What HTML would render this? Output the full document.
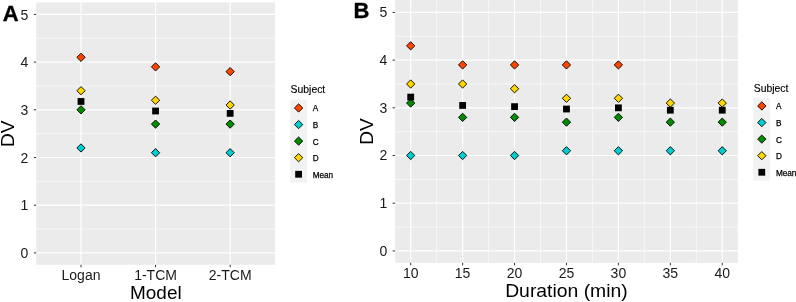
<!DOCTYPE html>
<html><head><meta charset="utf-8"><style>
html,body{margin:0;padding:0;background:#fff;}
body{width:796px;height:302px;overflow:hidden;}
svg{display:block;will-change:transform;}
text{font-family:"Liberation Sans",sans-serif;}
.tk{font-size:14px;fill:#1a1a1a;}
.ti{font-size:18.6px;fill:#000;}
.tag{font-size:22px;font-weight:bold;fill:#000;stroke:#000;stroke-width:0.35px;}
.lt{font-size:10.4px;fill:#000;stroke:#000;stroke-width:0.15px;}
.ll{font-size:8.2px;fill:#000;stroke:#000;stroke-width:0.25px;}
</style></head><body>
<svg width="796" height="302" viewBox="0 0 796 302">
<rect x="36.2" y="2.5" width="238.7" height="262.3" fill="#EBEBEB"/>
<line x1="36.2" x2="274.9" y1="229.05" y2="229.05" stroke="#fff" stroke-width="0.6"/>
<line x1="36.2" x2="274.9" y1="181.35" y2="181.35" stroke="#fff" stroke-width="0.6"/>
<line x1="36.2" x2="274.9" y1="133.65" y2="133.65" stroke="#fff" stroke-width="0.6"/>
<line x1="36.2" x2="274.9" y1="85.95" y2="85.95" stroke="#fff" stroke-width="0.6"/>
<line x1="36.2" x2="274.9" y1="38.25" y2="38.25" stroke="#fff" stroke-width="0.6"/>
<line x1="36.2" x2="274.9" y1="252.90" y2="252.90" stroke="#fff" stroke-width="1.2"/>
<line x1="36.2" x2="274.9" y1="205.20" y2="205.20" stroke="#fff" stroke-width="1.2"/>
<line x1="36.2" x2="274.9" y1="157.50" y2="157.50" stroke="#fff" stroke-width="1.2"/>
<line x1="36.2" x2="274.9" y1="109.80" y2="109.80" stroke="#fff" stroke-width="1.2"/>
<line x1="36.2" x2="274.9" y1="62.10" y2="62.10" stroke="#fff" stroke-width="1.2"/>
<line x1="36.2" x2="274.9" y1="14.40" y2="14.40" stroke="#fff" stroke-width="1.2"/>
<line x1="81.00" x2="81.00" y1="2.5" y2="264.8" stroke="#fff" stroke-width="1.2"/>
<line x1="155.56" x2="155.56" y1="2.5" y2="264.8" stroke="#fff" stroke-width="1.2"/>
<line x1="230.16" x2="230.16" y1="2.5" y2="264.8" stroke="#fff" stroke-width="1.2"/>
<path d="M81.00 53.18L85.15 57.33L81.00 61.48L76.85 57.33Z" fill="#FF4500" stroke="#000" stroke-width="0.9"/>
<path d="M81.00 143.81L85.15 147.96L81.00 152.11L76.85 147.96Z" fill="#00CED1" stroke="#000" stroke-width="0.9"/>
<path d="M81.00 105.65L85.15 109.80L81.00 113.95L76.85 109.80Z" fill="#008B00" stroke="#000" stroke-width="0.9"/>
<path d="M81.00 86.57L85.15 90.72L81.00 94.87L76.85 90.72Z" fill="#FFD700" stroke="#000" stroke-width="0.9"/>
<rect x="77.60" y="98.05" width="6.80" height="6.80" fill="#000"/>
<path d="M155.56 62.72L159.71 66.87L155.56 71.02L151.41 66.87Z" fill="#FF4500" stroke="#000" stroke-width="0.9"/>
<path d="M155.56 148.58L159.71 152.73L155.56 156.88L151.41 152.73Z" fill="#00CED1" stroke="#000" stroke-width="0.9"/>
<path d="M155.56 119.96L159.71 124.11L155.56 128.26L151.41 124.11Z" fill="#008B00" stroke="#000" stroke-width="0.9"/>
<path d="M155.56 96.11L159.71 100.26L155.56 104.41L151.41 100.26Z" fill="#FFD700" stroke="#000" stroke-width="0.9"/>
<rect x="152.16" y="107.59" width="6.80" height="6.80" fill="#000"/>
<path d="M230.16 67.49L234.31 71.64L230.16 75.79L226.01 71.64Z" fill="#FF4500" stroke="#000" stroke-width="0.9"/>
<path d="M230.16 148.58L234.31 152.73L230.16 156.88L226.01 152.73Z" fill="#00CED1" stroke="#000" stroke-width="0.9"/>
<path d="M230.16 119.96L234.31 124.11L230.16 128.26L226.01 124.11Z" fill="#008B00" stroke="#000" stroke-width="0.9"/>
<path d="M230.16 100.88L234.31 105.03L230.16 109.18L226.01 105.03Z" fill="#FFD700" stroke="#000" stroke-width="0.9"/>
<rect x="226.76" y="109.98" width="6.80" height="6.80" fill="#000"/>
<line x1="33.9" x2="36.2" y1="252.90" y2="252.90" stroke="#333333" stroke-width="1"/>
<text x="28.4" y="258.05" text-anchor="end" class="tk">0</text>
<line x1="33.9" x2="36.2" y1="205.20" y2="205.20" stroke="#333333" stroke-width="1"/>
<text x="28.4" y="210.35" text-anchor="end" class="tk">1</text>
<line x1="33.9" x2="36.2" y1="157.50" y2="157.50" stroke="#333333" stroke-width="1"/>
<text x="28.4" y="162.65" text-anchor="end" class="tk">2</text>
<line x1="33.9" x2="36.2" y1="109.80" y2="109.80" stroke="#333333" stroke-width="1"/>
<text x="28.4" y="114.95" text-anchor="end" class="tk">3</text>
<line x1="33.9" x2="36.2" y1="62.10" y2="62.10" stroke="#333333" stroke-width="1"/>
<text x="28.4" y="67.25" text-anchor="end" class="tk">4</text>
<line x1="33.9" x2="36.2" y1="14.40" y2="14.40" stroke="#333333" stroke-width="1"/>
<text x="28.4" y="19.55" text-anchor="end" class="tk">5</text>
<line x1="81.0" x2="81.0" y1="264.8" y2="267.3" stroke="#333333" stroke-width="1"/>
<text x="81.0" y="279.8" text-anchor="middle" class="tk">Logan</text>
<line x1="155.56" x2="155.56" y1="264.8" y2="267.3" stroke="#333333" stroke-width="1"/>
<text x="155.56" y="279.8" text-anchor="middle" class="tk">1-TCM</text>
<line x1="230.16" x2="230.16" y1="264.8" y2="267.3" stroke="#333333" stroke-width="1"/>
<text x="230.16" y="279.8" text-anchor="middle" class="tk">2-TCM</text>
<rect x="395.1" y="0" width="342.75" height="262.8" fill="#EBEBEB"/>
<line x1="395.1" x2="737.85" y1="227.06" y2="227.06" stroke="#fff" stroke-width="0.6"/>
<line x1="395.1" x2="737.85" y1="179.37" y2="179.37" stroke="#fff" stroke-width="0.6"/>
<line x1="395.1" x2="737.85" y1="131.68" y2="131.68" stroke="#fff" stroke-width="0.6"/>
<line x1="395.1" x2="737.85" y1="83.99" y2="83.99" stroke="#fff" stroke-width="0.6"/>
<line x1="395.1" x2="737.85" y1="36.30" y2="36.30" stroke="#fff" stroke-width="0.6"/>
<line x1="436.66" x2="436.66" y1="0" y2="262.8" stroke="#fff" stroke-width="0.6"/>
<line x1="488.59" x2="488.59" y1="0" y2="262.8" stroke="#fff" stroke-width="0.6"/>
<line x1="540.51" x2="540.51" y1="0" y2="262.8" stroke="#fff" stroke-width="0.6"/>
<line x1="592.44" x2="592.44" y1="0" y2="262.8" stroke="#fff" stroke-width="0.6"/>
<line x1="644.36" x2="644.36" y1="0" y2="262.8" stroke="#fff" stroke-width="0.6"/>
<line x1="696.29" x2="696.29" y1="0" y2="262.8" stroke="#fff" stroke-width="0.6"/>
<line x1="395.1" x2="737.85" y1="250.90" y2="250.90" stroke="#fff" stroke-width="1.2"/>
<line x1="395.1" x2="737.85" y1="203.21" y2="203.21" stroke="#fff" stroke-width="1.2"/>
<line x1="395.1" x2="737.85" y1="155.52" y2="155.52" stroke="#fff" stroke-width="1.2"/>
<line x1="395.1" x2="737.85" y1="107.83" y2="107.83" stroke="#fff" stroke-width="1.2"/>
<line x1="395.1" x2="737.85" y1="60.14" y2="60.14" stroke="#fff" stroke-width="1.2"/>
<line x1="395.1" x2="737.85" y1="12.45" y2="12.45" stroke="#fff" stroke-width="1.2"/>
<line x1="410.70" x2="410.70" y1="0" y2="262.8" stroke="#fff" stroke-width="1.2"/>
<line x1="462.62" x2="462.62" y1="0" y2="262.8" stroke="#fff" stroke-width="1.2"/>
<line x1="514.55" x2="514.55" y1="0" y2="262.8" stroke="#fff" stroke-width="1.2"/>
<line x1="566.48" x2="566.48" y1="0" y2="262.8" stroke="#fff" stroke-width="1.2"/>
<line x1="618.40" x2="618.40" y1="0" y2="262.8" stroke="#fff" stroke-width="1.2"/>
<line x1="670.33" x2="670.33" y1="0" y2="262.8" stroke="#fff" stroke-width="1.2"/>
<line x1="722.25" x2="722.25" y1="0" y2="262.8" stroke="#fff" stroke-width="1.2"/>
<path d="M410.70 41.68L414.85 45.83L410.70 49.98L406.55 45.83Z" fill="#FF4500" stroke="#000" stroke-width="0.9"/>
<path d="M410.70 151.37L414.85 155.52L410.70 159.67L406.55 155.52Z" fill="#00CED1" stroke="#000" stroke-width="0.9"/>
<path d="M410.70 98.91L414.85 103.06L410.70 107.21L406.55 103.06Z" fill="#008B00" stroke="#000" stroke-width="0.9"/>
<path d="M410.70 79.84L414.85 83.99L410.70 88.14L406.55 83.99Z" fill="#FFD700" stroke="#000" stroke-width="0.9"/>
<rect x="407.30" y="93.70" width="6.80" height="6.80" fill="#000"/>
<path d="M462.62 60.76L466.77 64.91L462.62 69.06L458.48 64.91Z" fill="#FF4500" stroke="#000" stroke-width="0.9"/>
<path d="M462.62 151.37L466.77 155.52L462.62 159.67L458.48 155.52Z" fill="#00CED1" stroke="#000" stroke-width="0.9"/>
<path d="M462.62 113.22L466.77 117.37L462.62 121.52L458.48 117.37Z" fill="#008B00" stroke="#000" stroke-width="0.9"/>
<path d="M462.62 79.84L466.77 83.99L462.62 88.14L458.48 83.99Z" fill="#FFD700" stroke="#000" stroke-width="0.9"/>
<rect x="459.23" y="102.05" width="6.80" height="6.80" fill="#000"/>
<path d="M514.55 60.76L518.70 64.91L514.55 69.06L510.40 64.91Z" fill="#FF4500" stroke="#000" stroke-width="0.9"/>
<path d="M514.55 151.37L518.70 155.52L514.55 159.67L510.40 155.52Z" fill="#00CED1" stroke="#000" stroke-width="0.9"/>
<path d="M514.55 113.22L518.70 117.37L514.55 121.52L510.40 117.37Z" fill="#008B00" stroke="#000" stroke-width="0.9"/>
<path d="M514.55 84.60L518.70 88.75L514.55 92.90L510.40 88.75Z" fill="#FFD700" stroke="#000" stroke-width="0.9"/>
<rect x="511.15" y="103.24" width="6.80" height="6.80" fill="#000"/>
<path d="M566.48 60.76L570.62 64.91L566.48 69.06L562.33 64.91Z" fill="#FF4500" stroke="#000" stroke-width="0.9"/>
<path d="M566.48 146.60L570.62 150.75L566.48 154.90L562.33 150.75Z" fill="#00CED1" stroke="#000" stroke-width="0.9"/>
<path d="M566.48 117.99L570.62 122.14L566.48 126.29L562.33 122.14Z" fill="#008B00" stroke="#000" stroke-width="0.9"/>
<path d="M566.48 94.14L570.62 98.29L566.48 102.44L562.33 98.29Z" fill="#FFD700" stroke="#000" stroke-width="0.9"/>
<rect x="563.08" y="105.62" width="6.80" height="6.80" fill="#000"/>
<path d="M618.40 60.76L622.55 64.91L618.40 69.06L614.25 64.91Z" fill="#FF4500" stroke="#000" stroke-width="0.9"/>
<path d="M618.40 146.60L622.55 150.75L618.40 154.90L614.25 150.75Z" fill="#00CED1" stroke="#000" stroke-width="0.9"/>
<path d="M618.40 113.22L622.55 117.37L618.40 121.52L614.25 117.37Z" fill="#008B00" stroke="#000" stroke-width="0.9"/>
<path d="M618.40 94.14L622.55 98.29L618.40 102.44L614.25 98.29Z" fill="#FFD700" stroke="#000" stroke-width="0.9"/>
<rect x="615.00" y="104.43" width="6.80" height="6.80" fill="#000"/>
<path d="M670.33 146.60L674.48 150.75L670.33 154.90L666.18 150.75Z" fill="#00CED1" stroke="#000" stroke-width="0.9"/>
<path d="M670.33 117.99L674.48 122.14L670.33 126.29L666.18 122.14Z" fill="#008B00" stroke="#000" stroke-width="0.9"/>
<path d="M670.33 98.91L674.48 103.06L670.33 107.21L666.18 103.06Z" fill="#FFD700" stroke="#000" stroke-width="0.9"/>
<rect x="666.93" y="106.81" width="6.80" height="6.80" fill="#000"/>
<path d="M722.25 146.60L726.40 150.75L722.25 154.90L718.10 150.75Z" fill="#00CED1" stroke="#000" stroke-width="0.9"/>
<path d="M722.25 117.99L726.40 122.14L722.25 126.29L718.10 122.14Z" fill="#008B00" stroke="#000" stroke-width="0.9"/>
<path d="M722.25 98.91L726.40 103.06L722.25 107.21L718.10 103.06Z" fill="#FFD700" stroke="#000" stroke-width="0.9"/>
<rect x="718.85" y="106.81" width="6.80" height="6.80" fill="#000"/>
<line x1="392.6" x2="395.1" y1="250.90" y2="250.90" stroke="#333333" stroke-width="1"/>
<text x="387.4" y="255.60" text-anchor="end" class="tk">0</text>
<line x1="392.6" x2="395.1" y1="203.21" y2="203.21" stroke="#333333" stroke-width="1"/>
<text x="387.4" y="207.91" text-anchor="end" class="tk">1</text>
<line x1="392.6" x2="395.1" y1="155.52" y2="155.52" stroke="#333333" stroke-width="1"/>
<text x="387.4" y="160.22" text-anchor="end" class="tk">2</text>
<line x1="392.6" x2="395.1" y1="107.83" y2="107.83" stroke="#333333" stroke-width="1"/>
<text x="387.4" y="112.53" text-anchor="end" class="tk">3</text>
<line x1="392.6" x2="395.1" y1="60.14" y2="60.14" stroke="#333333" stroke-width="1"/>
<text x="387.4" y="64.84" text-anchor="end" class="tk">4</text>
<line x1="392.6" x2="395.1" y1="12.45" y2="12.45" stroke="#333333" stroke-width="1"/>
<text x="387.4" y="17.15" text-anchor="end" class="tk">5</text>
<line x1="410.70" x2="410.70" y1="262.8" y2="265.3" stroke="#333333" stroke-width="1"/>
<text x="410.70" y="277.8" text-anchor="middle" class="tk">10</text>
<line x1="462.62" x2="462.62" y1="262.8" y2="265.3" stroke="#333333" stroke-width="1"/>
<text x="462.62" y="277.8" text-anchor="middle" class="tk">15</text>
<line x1="514.55" x2="514.55" y1="262.8" y2="265.3" stroke="#333333" stroke-width="1"/>
<text x="514.55" y="277.8" text-anchor="middle" class="tk">20</text>
<line x1="566.48" x2="566.48" y1="262.8" y2="265.3" stroke="#333333" stroke-width="1"/>
<text x="566.48" y="277.8" text-anchor="middle" class="tk">25</text>
<line x1="618.40" x2="618.40" y1="262.8" y2="265.3" stroke="#333333" stroke-width="1"/>
<text x="618.40" y="277.8" text-anchor="middle" class="tk">30</text>
<line x1="670.33" x2="670.33" y1="262.8" y2="265.3" stroke="#333333" stroke-width="1"/>
<text x="670.33" y="277.8" text-anchor="middle" class="tk">35</text>
<line x1="722.25" x2="722.25" y1="262.8" y2="265.3" stroke="#333333" stroke-width="1"/>
<text x="722.25" y="277.8" text-anchor="middle" class="tk">40</text>
<text x="155.85" y="299.45" text-anchor="middle" class="ti" textLength="51.6" lengthAdjust="spacingAndGlyphs">Model</text>
<text transform="translate(14.3 133.8) rotate(-90)" x="0" y="0" text-anchor="middle" class="ti" textLength="26.6" lengthAdjust="spacingAndGlyphs">DV</text>
<text x="566.45" y="297.45" text-anchor="middle" class="ti" textLength="122.6" lengthAdjust="spacingAndGlyphs">Duration (min)</text>
<text transform="translate(373.0 131.4) rotate(-90)" x="0" y="0" text-anchor="middle" class="ti" textLength="26.6" lengthAdjust="spacingAndGlyphs">DV</text>
<text x="2.8" y="21.3" class="tag">A</text>
<text x="353.6" y="18.25" class="tag">B</text>
<text x="290.6" y="93.2" class="lt">Subject</text>
<rect x="290.3" y="99.7" width="16.6" height="82.85" fill="#F2F2F2"/>
<path d="M298.60 103.83L302.75 107.98L298.60 112.14L294.45 107.98Z" fill="#FF4500" stroke="#000" stroke-width="0.9"/>
<text x="312.70000000000005" y="111.44" class="ll">A</text>
<path d="M298.60 120.41L302.75 124.56L298.60 128.71L294.45 124.56Z" fill="#00CED1" stroke="#000" stroke-width="0.9"/>
<text x="312.70000000000005" y="128.00" class="ll">B</text>
<path d="M298.60 136.97L302.75 141.12L298.60 145.28L294.45 141.12Z" fill="#008B00" stroke="#000" stroke-width="0.9"/>
<text x="312.70000000000005" y="144.57" class="ll">C</text>
<path d="M298.60 153.54L302.75 157.69L298.60 161.84L294.45 157.69Z" fill="#FFD700" stroke="#000" stroke-width="0.9"/>
<text x="312.70000000000005" y="161.14" class="ll">D</text>
<rect x="295.20" y="170.86" width="6.80" height="6.80" fill="#000"/>
<text x="312.70000000000005" y="177.71" class="ll">Mean</text>
<text x="753.8" y="91.6" class="lt">Subject</text>
<rect x="753.5" y="97.7" width="16.6" height="82.85" fill="#F2F2F2"/>
<path d="M761.80 101.83L765.95 105.98L761.80 110.14L757.65 105.98Z" fill="#FF4500" stroke="#000" stroke-width="0.9"/>
<text x="775.9" y="109.44" class="ll">A</text>
<path d="M761.80 118.41L765.95 122.56L761.80 126.71L757.65 122.56Z" fill="#00CED1" stroke="#000" stroke-width="0.9"/>
<text x="775.9" y="126.01" class="ll">B</text>
<path d="M761.80 134.97L765.95 139.12L761.80 143.28L757.65 139.12Z" fill="#008B00" stroke="#000" stroke-width="0.9"/>
<text x="775.9" y="142.57" class="ll">C</text>
<path d="M761.80 151.54L765.95 155.69L761.80 159.84L757.65 155.69Z" fill="#FFD700" stroke="#000" stroke-width="0.9"/>
<text x="775.9" y="159.14" class="ll">D</text>
<rect x="758.40" y="168.86" width="6.80" height="6.80" fill="#000"/>
<text x="775.9" y="175.71" class="ll">Mean</text>
</svg>
</body></html>
